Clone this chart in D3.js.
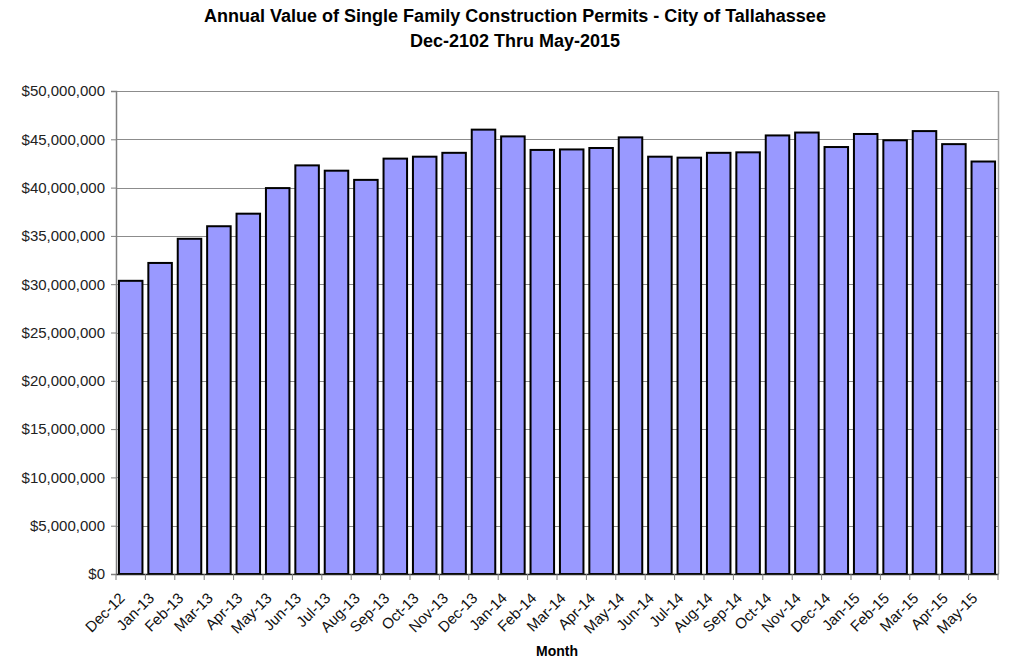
<!DOCTYPE html>
<html><head><meta charset="utf-8">
<script src="https://cdn.jsdelivr.net/npm/d3@7"></script>
<style>
body{margin:0;background:#fff;}
svg{display:block;font-family:"Liberation Sans",Arial,sans-serif;}
</style></head><body>
<svg id="c" width="1024" height="669"></svg>
<script>
const months = ["Dec-12","Jan-13","Feb-13","Mar-13","Apr-13","May-13","Jun-13","Jul-13","Aug-13","Sep-13","Oct-13","Nov-13","Dec-13","Jan-14","Feb-14","Mar-14","Apr-14","May-14","Jun-14","Jul-14","Aug-14","Sep-14","Oct-14","Nov-14","Dec-14","Jan-15","Feb-15","Mar-15","Apr-15","May-15"];
const values = [30350000,32200000,34700000,36000000,37300000,39950000,42300000,41750000,40800000,43000000,43200000,43600000,46000000,45300000,43900000,43950000,44100000,45200000,43200000,43100000,43600000,43650000,45400000,45700000,44200000,45550000,44900000,45850000,44500000,42700000];
const yTicks = [0,5000000,10000000,15000000,20000000,25000000,30000000,35000000,40000000,45000000,50000000];
const titleLines = ["Annual Value of Single Family Construction Permits - City of Tallahassee","Dec-2102 Thru May-2015"];
const xTitle = "Month";

const svg = d3.select("#c");
const L=116,R=998,T=91,B=574;
const x = d3.scaleBand().domain(months).range([L,R]).paddingInner(0.2).paddingOuter(0.1);
const xb = d3.scaleBand().domain(months).range([L,R]);
const y = d3.scaleLinear().domain([0,50000000]).range([B,T]);
const fmt = v => "$" + d3.format(",")(v);

// gridlines
svg.append("g").selectAll("line").data(yTicks.filter(d=>d>0)).join("line")
  .attr("x1",L).attr("x2",R).attr("y1",d=>Math.round(y(d))+0.5).attr("y2",d=>Math.round(y(d))+0.5)
  .attr("stroke","#8c8c8c").attr("stroke-width",1);
// right border
svg.append("line").attr("x1",R+0.5).attr("x2",R+0.5).attr("y1",T).attr("y2",B).attr("stroke","#9a9a9a").attr("stroke-width",1.5);

// bars
svg.append("g").selectAll("rect").data(values).join("rect")
  .attr("x",(d,i)=>x(months[i])).attr("width",x.bandwidth())
  .attr("y",d=>y(d)).attr("height",d=>B-y(d))
  .attr("fill","#9999ff").attr("stroke","#000").attr("stroke-width",2);

// y axis
const ya = svg.append("g").attr("transform",`translate(${L},0)`)
  .call(d3.axisLeft(y).tickValues(yTicks).tickFormat(fmt).tickSize(5).tickPadding(6));
ya.select(".domain").attr("stroke","#808080").attr("stroke-width",1.5);
ya.selectAll(".tick line").attr("stroke","#808080");
ya.selectAll("text").attr("font-size",15).attr("fill","#222").attr("font-family","'Liberation Sans',Arial,sans-serif");

// x axis
const xa = svg.append("g").attr("transform",`translate(0,${B})`)
  .call(d3.axisBottom(xb).tickSize(0).tickPadding(0));
xa.select(".domain").attr("stroke","#222").attr("stroke-width",1.5);
xa.selectAll(".tick text").attr("font-size",15).attr("fill","#111")
  .attr("font-family","'Liberation Sans',Arial,sans-serif")
  .attr("text-anchor","end").attr("dy",0)
  .attr("transform","translate(-5,25) rotate(-45)");
// boundary tick marks
svg.append("g").selectAll("line").data(d3.range(months.length+1)).join("line")
  .attr("x1",i=>L+i*xb.step()).attr("x2",i=>L+i*xb.step())
  .attr("y1",B).attr("y2",B+6).attr("stroke","#808080").attr("stroke-width",1);

// titles
svg.append("g").selectAll("text").data(titleLines).join("text")
  .attr("x",515).attr("y",(d,i)=>22+i*25).attr("text-anchor","middle")
  .attr("font-size",18).attr("font-weight","bold").attr("fill","#000").text(d=>d);
svg.append("text").attr("x",557).attr("y",656).attr("text-anchor","middle")
  .attr("font-size",14).attr("font-weight","bold").text(xTitle);
</script>
</body></html>
